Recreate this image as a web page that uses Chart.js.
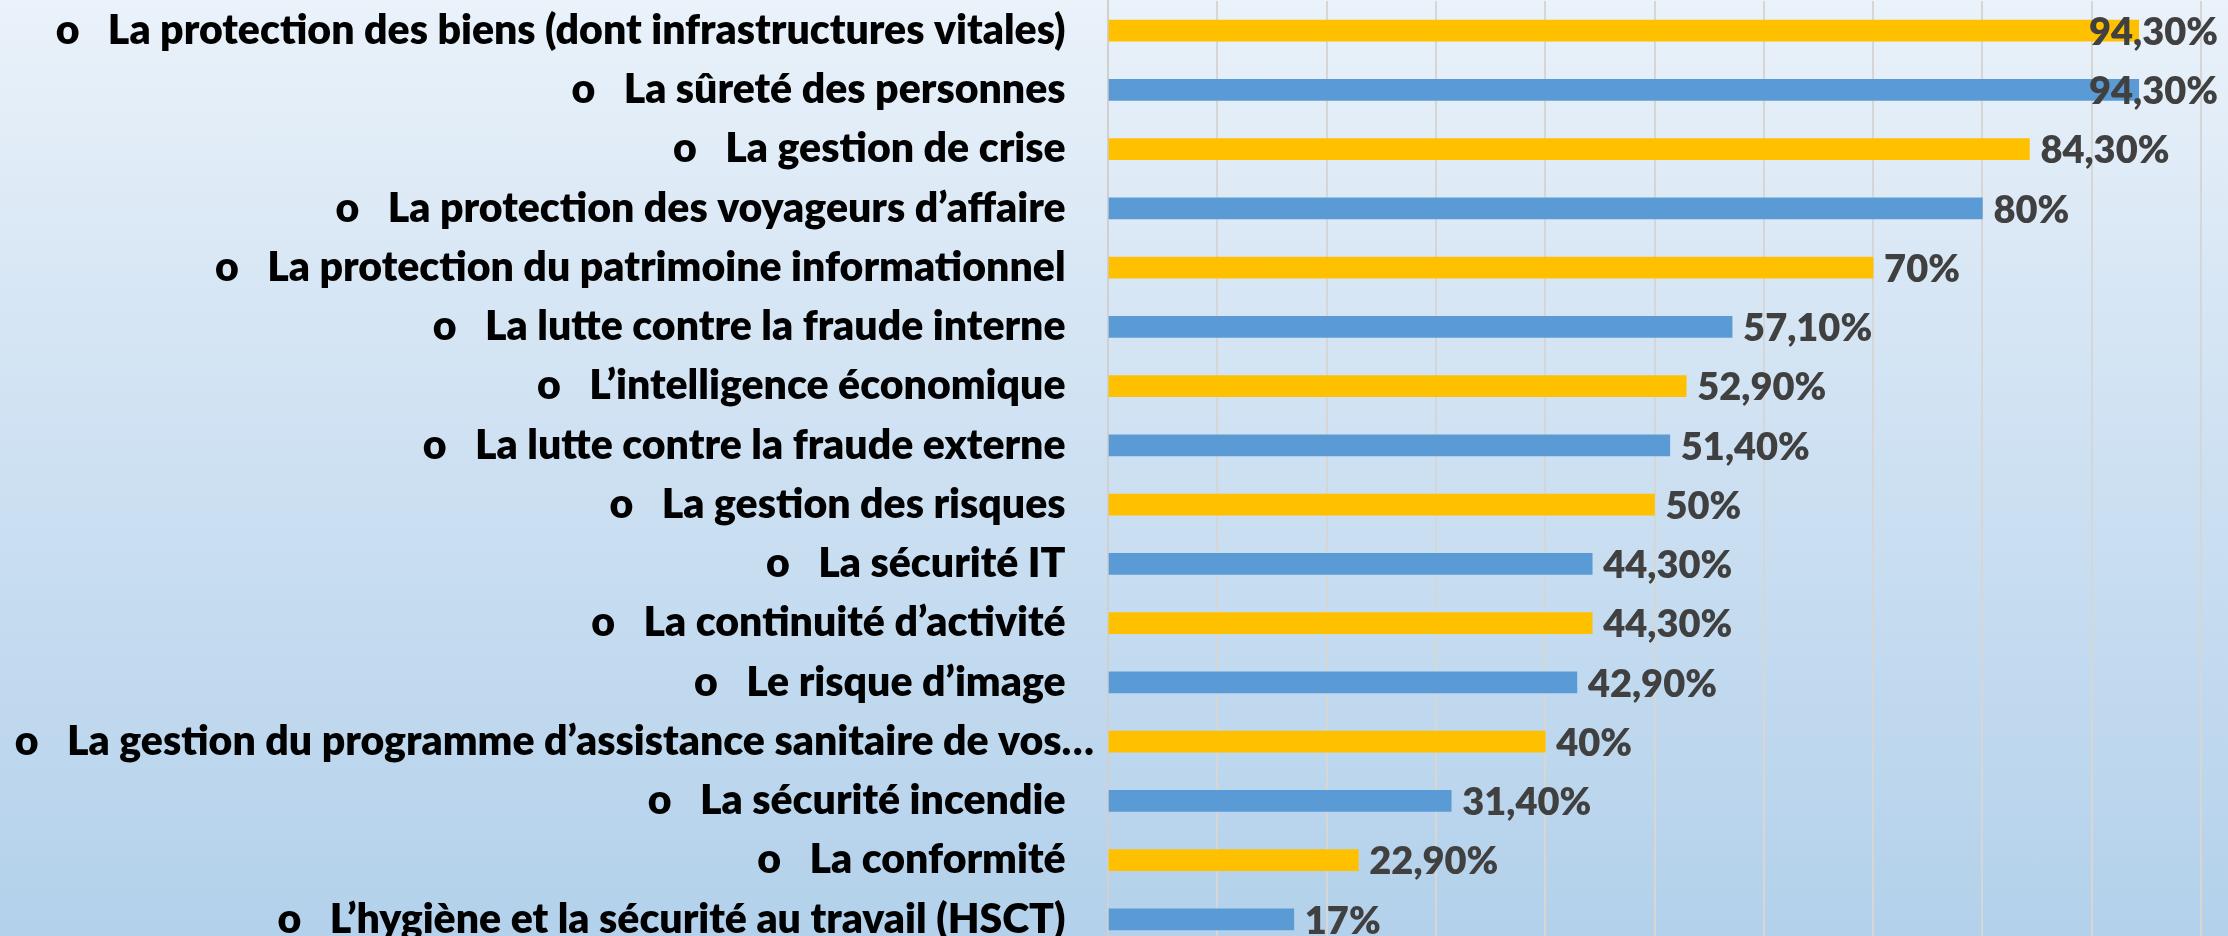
<!DOCTYPE html>
<html>
<head>
<meta charset="utf-8">
<script src="https://cdn.jsdelivr.net/npm/chart.js@4.4.1/dist/chart.umd.min.js"></script>
<style>
    html, body {
        margin: 0;
        padding: 0;
        width: 2228px;
        height: 936px;
        overflow: hidden;
    }
    html {
        background: linear-gradient(to bottom, #EAF2FA 0%, #D5E5F4 35%, #B3D1EB 100%);
    }
</style>
</head>
<body>
<canvas id="chartMissions" width="2228" height="949"></canvas>
<script>
// categories, top to bottom
const categories = [
    "La protection des biens (dont infrastructures vitales)",
    "La sûreté des personnes",
    "La gestion de crise",
    "La protection des voyageurs d’affaire",
    "La protection du patrimoine informationnel",
    "La lutte contre la fraude interne",
    "L’intelligence économique",
    "La lutte contre la fraude externe",
    "La gestion des risques",
    "La sécurité IT",
    "La continuité d’activité",
    "Le risque d’image",
    "La gestion du programme d’assistance sanitaire de vos…",
    "La sécurité incendie",
    "La conformité",
    "L’hygiène et la sécurité au travail (HSCT)"
];

// percentages
const values = [94.3, 94.3, 84.3, 80, 70, 57.1, 52.9, 51.4, 50, 44.3, 44.3, 42.9, 40, 31.4, 22.9, 17];

const axisMin = 0;
const axisMax = 100;
const axisStep = 10;

const YELLOW = "#FFC000";
const BLUE = "#5B9BD5";
const LABEL_FONT = "Lato";

const formatPercent = (v) => {
    if (Number.isInteger(v)) return v + "%";
    return v.toFixed(2).replace(".", ",") + "%";
};

// value labels next to the bars, pushed back inside when they would run off the right edge
const valueLabels = {
    id: "valueLabels",
    afterDatasetsDraw(chart) {
        const ctx = chart.ctx;
        const meta = chart.getDatasetMeta(0);
        ctx.save();
        ctx.font = "800 38px " + LABEL_FONT;
        ctx.fillStyle = "#404040";
        ctx.textBaseline = "middle";
        ctx.textAlign = "left";
        meta.data.forEach((bar, i) => {
            const text = formatPercent(values[i]);
            const w = ctx.measureText(text).width;
            let x = bar.x + 11;
            if (x + w > chart.width - 10) x = chart.width - 10 - w;
            ctx.fillText(text, x, bar.y + 2);
        });
        ctx.restore();
    }
};

const config = {
    type: "bar",
    data: {
        labels: categories,
        datasets: [{
            data: values,
            backgroundColor: (c) => (c.dataIndex % 2 === 0 ? YELLOW : BLUE),
            barThickness: 21,
            borderWidth: 0
        }]
    },
    options: {
        indexAxis: "y",
        responsive: false,
        animation: false,
        layout: { padding: { top: 1, right: 27, bottom: 0, left: 0 } },
        plugins: {
            legend: { display: false },
            tooltip: { enabled: false }
        },
        scales: {
            x: {
                min: axisMin,
                max: axisMax,
                ticks: { display: false, stepSize: axisStep },
                grid: { color: "#D6D6D6", lineWidth: 2, drawTicks: false },
                border: { display: false }
            },
            y: {
                grid: { display: false, drawTicks: false },
                border: { display: true, color: "#D0D0D0", width: 2 },
                ticks: {
                    color: "#000000",
                    padding: 14,
                    autoSkip: false,
                    font: { family: LABEL_FONT, size: 41, weight: 800 },
                    callback: function (value) {
                        const label = "o   " + this.getLabelForValue(value);
                        // excel lets the truncated label run closer to the axis
                        return label.endsWith("…") ? label : label + "   ";
                    }
                },
                afterFit: (scale) => {
                    scale.width = 1108;
                    scale.paddingTop = 0;
                    scale.paddingBottom = 0;
                }
            }
        }
    },
    plugins: [valueLabels]
};

let ctx = document.getElementById("chartMissions");
let barChart = new Chart(ctx, config);
</script>
</body>
</html>
